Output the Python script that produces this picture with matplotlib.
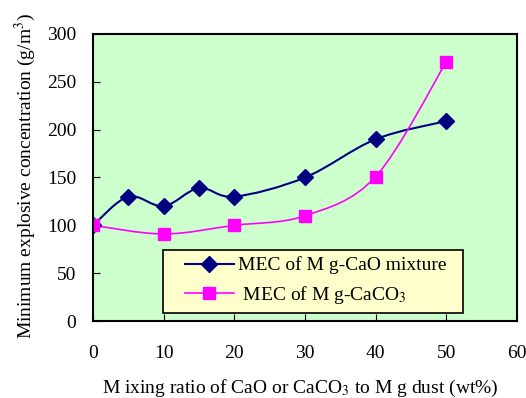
import matplotlib.pyplot as plt
import numpy as np
from matplotlib.path import Path
from matplotlib.patches import PathPatch, Rectangle
from matplotlib.lines import Line2D

plt.rcParams['font.family'] = ['Liberation Serif', 'DejaVu Serif']
plt.rcParams['mathtext.fontset'] = 'stix'

# data
cao_x = [0, 5, 10, 15, 20, 30, 40, 50]
cao_y = [100, 130, 120, 139, 130, 150, 190, 209]
caco3_x = [0, 10, 20, 30, 40, 50]
caco3_y = [100, 91, 100, 110, 151, 271]

x_ticks = [0, 10, 20, 30, 40, 50, 60]
y_ticks = [0, 50, 100, 150, 200, 250, 300]


# Excel-style smoothed line: cubic bezier segments through the points
def smooth_path(xs, ys):
    p = np.column_stack([xs, ys]).astype(float)
    n = len(p)
    verts = [p[0]]
    codes = [Path.MOVETO]
    for i in range(n - 1):
        p0 = p[i - 1] if i > 0 else p[i]
        p3 = p[i + 2] if i + 2 < n else p[i + 1]
        c1 = p[i] + (p[i + 1] - p0) / 6.0
        c2 = p[i + 1] - (p3 - p[i]) / 6.0
        verts += [c1, c2, p[i + 1]]
        codes += [Path.CURVE4] * 3
    return Path(verts, codes)


fig = plt.figure(figsize=(5.26, 3.98), dpi=100)
ax = fig.add_axes([93 / 526, 1 - 321 / 398, 424 / 526, 287 / 398])
ax.set_facecolor('#ccffcc')

navy = '#000080'
pink = '#ff00ff'
fs = 14

ax.add_patch(PathPatch(smooth_path(cao_x, cao_y), fill=False, edgecolor=navy, lw=1.5))
ax.plot(cao_x, cao_y, ls='none', marker='D', ms=8.5, color=navy)
ax.add_patch(PathPatch(smooth_path(caco3_x, caco3_y), fill=False, edgecolor=pink, lw=1.2))
ax.plot(caco3_x, caco3_y, ls='none', marker='s', ms=9, color=pink)

ax.set_xlim(0, 60)
ax.set_ylim(0, 300)
ax.set_xticks(x_ticks)
ax.set_yticks(y_ticks)
ax.tick_params(axis='x', direction='in', length=5, pad=17, labelsize=fs)
ax.tick_params(axis='y', direction='in', length=5, pad=12, labelsize=fs)
for s in ax.spines.values():
    s.set_linewidth(1.5)

ax.set_xlabel('M ixing ratio of CaO or CaCO$_3$ to M g dust (wt%)', fontsize=fs)
ax.xaxis.set_label_coords(0.49, -0.235)
ax.xaxis.label.set_va('center')
ax.set_ylabel('Minimum explosive concentration (g/m$^3$)', fontsize=fs)
ax.yaxis.set_label_coords(-0.16, 0.505)
ax.yaxis.label.set_va('center')

# legend box (yellow, square corners)
ax.add_patch(Rectangle((0.165, 0.028), 0.708, 0.22, transform=ax.transAxes,
                       facecolor='#ffffcc', edgecolor='black', lw=1.2, zorder=4))
handles = [
    Line2D([], [], color=navy, lw=1.5, marker='D', ms=8.5),
    Line2D([], [], color=pink, lw=1.2, marker='s', ms=9),
]
labels = ['MEC of M g-CaO mixture', ' MEC of M g-CaCO$_3$']
leg = ax.legend(handles, labels, loc='center left', bbox_to_anchor=(0.217, 0.138),
                fontsize=fs, frameon=False, handlelength=2.5, borderpad=0,
                borderaxespad=0, labelspacing=0.5, handletextpad=0.25)
leg.set_zorder(5)

fig.savefig('out.png', dpi=100)
